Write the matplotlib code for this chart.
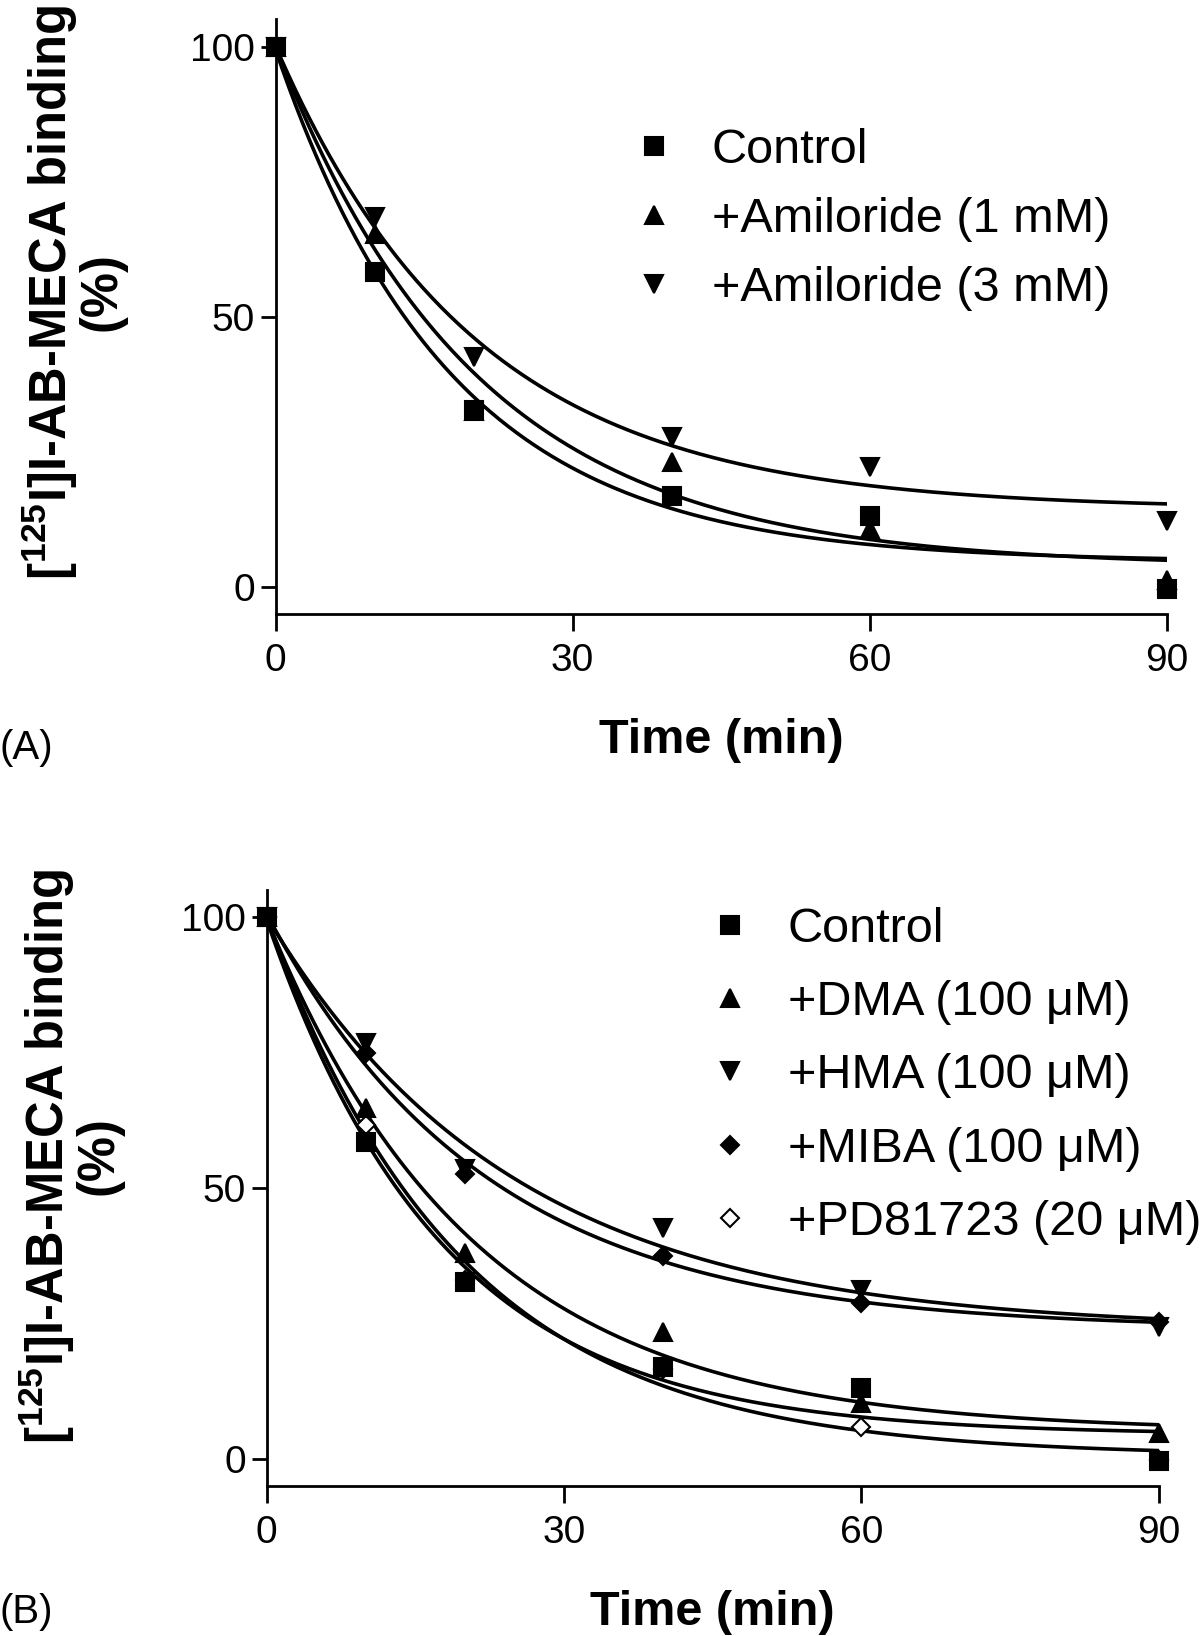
import numpy as np
import matplotlib
matplotlib.use("Agg")
import matplotlib.pyplot as plt

plt.rcParams['font.family'] = ['Liberation Sans', 'DejaVu Sans']
plt.rcParams['mathtext.fontset'] = 'custom'
plt.rcParams['mathtext.rm'] = 'Liberation Sans:bold'
plt.rcParams['mathtext.bf'] = 'Liberation Sans:bold'
plt.rcParams['mathtext.default'] = 'bf'

# time points (min)
time = np.array([0, 10, 20, 40, 60, 90])

# panel A - amiloride
a_control = [100, 58.2, 32.7, 16.9, 13.2, -0.3]
a_amil_1mm = [100, 65.4, 32.6, 23.1, 10.8, 1.2]
a_amil_3mm = [100, 68.4, 42.5, 27.7, 22.2, 12.3]
a_labels = ["Control", "+Amiloride (1 mM)", "+Amiloride (3 mM)"]

# panel B - amiloride analogues / PD81723
b_control = [100, 58.5, 32.7, 17.0, 13.0, -0.5]
b_dma = [100, 64.7, 37.9, 23.4, 10.2, 4.7]
b_hma = [100, 76.7, 53.5, 42.5, 31.1, 24.4]
b_miba = [100, 74.8, 52.5, 37.4, 28.7, 25.2]
b_pd = [100, 61.6, 33.0, 16.6, 5.9, -0.3]
b_labels = ["Control", "+DMA (100 \u03bcM)", "+HMA (100 \u03bcM)",
            "+MIBA (100 \u03bcM)", "+PD81723 (20 \u03bcM)"]


def fit_decay(t, y):
    # one phase dissociation fit: y = (Y0 - NS) * exp(-k t) + NS
    t = np.asarray(t, float)
    y = np.asarray(y, float)
    best = None
    for k in np.linspace(0.005, 0.4, 4000):
        e = np.exp(-k * t)
        A = np.column_stack([e, 1 - e])
        coef = np.linalg.lstsq(A, y, rcond=None)[0]
        sse = np.sum((A @ coef - y) ** 2)
        if best is None or sse < best[0]:
            best = (sse, k, coef[0], coef[1])
    return best[1:]


def style_axes(ax):
    ax.set_xlim(0, 90)
    ax.set_ylim(-5, 105)
    ax.set_xticks([0, 30, 60, 90])
    ax.set_yticks([0, 50, 100])
    ax.spines['top'].set_visible(False)
    ax.spines['right'].set_visible(False)
    ax.spines['left'].set_linewidth(2)
    ax.spines['bottom'].set_linewidth(2)
    ax.tick_params(axis='x', direction='out', length=12, width=2, pad=9, labelsize=28)
    ax.tick_params(axis='y', direction='out', length=11, width=2, pad=4, labelsize=28)
    ax.set_xlabel("Time (min)", fontsize=35, fontweight='bold', labelpad=28)


def draw_panel(ax, series, markers, labels):
    tt = np.linspace(0, 90, 400)
    handles = [None] * len(series)
    for vals in series:
        k, y0, ns = fit_decay(time, vals)
        ax.plot(tt, (y0 - ns) * np.exp(-k * tt) + ns, color='black', lw=2.6, zorder=2)
    # last series drawn first so Control ends up on top
    for i in reversed(range(len(series))):
        m, ms, fc = markers[i]
        h, = ax.plot(time, series[i], linestyle='none', marker=m, markersize=ms,
                     markerfacecolor=fc, markeredgecolor='black', markeredgewidth=1.5,
                     clip_on=False, zorder=3)
        handles[i] = h
    return handles


fig = plt.figure(figsize=(12, 16.36), dpi=100)
W, H = 1200, 1636

# panel A
axA = fig.add_axes([275.5 / W, 1 - 614 / H, (1167 - 275.5) / W, (614 - 19.5) / H])
mk_a = [('s', 13, 'black'), ('^', 13, 'black'), ('v', 13, 'black')]
hA = draw_panel(axA, [a_control, a_amil_1mm, a_amil_3mm], mk_a, a_labels)
style_axes(axA)
axA.legend(hA, a_labels, loc='upper left', bbox_to_anchor=(0.397, 0.818), frameon=False,
           fontsize=35, handlelength=1.0, handletextpad=0.69, labelspacing=0.50,
           borderpad=0, borderaxespad=0)

# panel B
axB = fig.add_axes([266.7 / W, 1 - 1485.8 / H, (1158.5 - 266.7) / W, (1485.8 - 889.8) / H])
mk_b = [('s', 13, 'black'), ('^', 13, 'black'), ('v', 13, 'black'),
        ('D', 9.5, 'black'), ('D', 9.5, 'white')]
hB = draw_panel(axB, [b_control, b_dma, b_hma, b_miba, b_pd], mk_b, b_labels)
style_axes(axB)
axB.legend(hB, b_labels, loc='upper left', bbox_to_anchor=(0.492, 0.971), frameon=False,
           fontsize=35, handlelength=1.0, handletextpad=0.69, labelspacing=0.58,
           borderpad=0, borderaxespad=0)

ylab = "[$^{125}$I]I-AB-MECA binding\n(%)"
fig.text(73 / W, 1 - 292 / H, ylab, rotation=90, ha='center', va='center',
         multialignment='center', fontsize=36.5, fontweight='bold', linespacing=0.95)
fig.text(70 / W, 1 - 1156 / H, ylab, rotation=90, ha='center', va='center',
         multialignment='center', fontsize=36.5, fontweight='bold', linespacing=0.95)

fig.text(0, 1 - 748 / H, "(A)", ha='left', va='center', fontsize=29)
fig.text(0, 1 - 1612 / H, "(B)", ha='left', va='center', fontsize=29)

fig.savefig("out.png", dpi=100)
